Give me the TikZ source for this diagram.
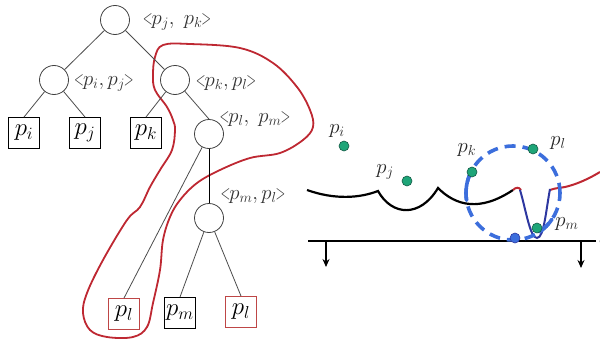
\documentclass[tikz,border=0pt]{standalone}
\usepackage{graphicx}
\usetikzlibrary{arrows.meta}
\definecolor{loopred}{RGB}{190,40,50}
\definecolor{leafred}{RGB}{190,70,70}
\definecolor{dashblue}{RGB}{60,110,220}
\definecolor{vblue}{RGB}{45,55,160}
\definecolor{ptgreen}{RGB}{30,165,120}
\definecolor{ptgreenedge}{RGB}{20,90,70}
\newcommand\pp[1]{$p_{#1}$}
\newcommand\nlt{\scalebox{0.62}[1]{$<$}}
\newcommand\ngt{\scalebox{0.62}[1]{$>$}}
\newcommand\pair[2]{\nlt\kern-1pt$p_{#1},p_{#2}$\kern-1pt\ngt}
\newcommand\pairs[2]{\nlt\kern-1pt$p_{#1},\;p_{#2}$\kern-1pt\ngt}
\begin{document}
\begin{tikzpicture}[x=1pt,y=-1pt,
  inner/.style={circle,draw=black!75,line width=0.8pt,minimum size=29pt,inner sep=0pt},
  leaf/.style={draw=black,line width=0.9pt,minimum size=31pt,inner sep=0pt,font=\fontsize{23}{26}\selectfont},
  redleaf/.style={leaf,draw=leafred},
  lab/.style={font=\fontsize{22}{26}\selectfont,text=black!80,inner sep=0pt},
  plab/.style={font=\fontsize{21}{24}\selectfont,text=black!85,inner sep=0pt},
  edge/.style={draw=black!70,line width=0.8pt},
  gpt/.style={circle,fill=ptgreen,draw=ptgreenedge,line width=0.6pt,minimum size=10pt,inner sep=0pt},
  bpt/.style={circle,fill=dashblue,draw=vblue,line width=0.6pt,minimum size=10pt,inner sep=0pt},
  downarrow/.style={-{Stealth[length=8pt,width=7pt]},line width=1.6pt}]
\useasboundingbox (0,0) rectangle (600,340);

% red loop
\draw[loopred,line width=1.8pt] plot[smooth cycle,tension=0.6] coordinates {
 (163,45) (190,44) (240,48) (273,63) (297,87) (310,110) (313,127) (303,140)
 (280,153) (250,158) (220,170) (197,183) (180,200) (170,217) (163,240)
 (160,270) (153,303) (147,327) (133,337) (107,337) (90,330) (83,313)
 (87,293) (103,260) (127,220) (140,207) (150,187) (160,170) (172,150)
 (175,130) (173,120) (167,107) (155,90) (153,75) (155,57)};

% tree
\node[inner] (root) at (115,20) {};
\node[inner] (L) at (54,80) {};
\node[inner] (R) at (175,80) {};
\node[inner] (M) at (209,134) {};
\node[inner] (N) at (209,218) {};
\node[leaf] (pi) at (24,133) {\pp{i}};
\node[leaf] (pj) at (85,133) {\pp{j}};
\node[leaf] (pk) at (146,133) {\pp{k}};
\node[redleaf] (pla) at (124,314) {\pp{l}};
\node[leaf] (pm) at (180,313) {\pp{m}};
\node[redleaf] (plb) at (241,312) {\pp{l}};

\draw[edge] (root) -- (L);
\draw[edge] (root) -- (R);
\draw[edge] (L) -- (pi.north);
\draw[edge] (L) -- (pj.north);
\draw[edge] (R) -- (pk.north);
\draw[edge] (R) -- (M.north);
\draw[edge] (M) -- (pla.north);
\draw[draw=black,line width=0.8pt] (M) -- (N);
\draw[edge] (N) -- (pm.north);
\draw[edge] (N) -- (plb.north);

\node[lab] (lroot) at (177,22) {\pairs{j}{k}};
\node[lab] (lL) at (104,83) {\pair{i}{j}};
\node[lab] (lR) at (226,83) {\pair{k}{l}};
\node[lab] (lM) at (255,119) {\pairs{l}{m}};
\node[lab] (lN) at (253,196) {\pair{m}{l}};

% right panel
\coordinate (b0) at (308,241);
\coordinate (b1) at (596,241);
\draw[line width=2.6pt] (b0) -- (b1);
\coordinate (a1) at (326,241); \coordinate (a1e) at (326,267);
\coordinate (a2) at (581,241); \coordinate (a2e) at (581,268);
\draw[downarrow] (a1) -- (a1e);
\draw[downarrow] (a2) -- (a2e);
\node[plab] (edgel) at (602,236) {$l$};

% black wavy curve
\draw[line width=2.2pt] (307,190) .. controls (335,200) and (360,198) .. (378,191)
  .. controls (392,216) and (420,218) .. (438,188)
  .. controls (456,206) and (480,212) .. (513,190);
% red pieces
\draw[loopred,line width=2pt] (513,190) .. controls (516,187) and (519,187) .. (521,190);
\draw[loopred,line width=2pt] (550,190) .. controls (555,188) and (560,188) .. (565,187)
  .. controls (578,184) and (590,178) .. (600,172);
% blue V
\draw[vblue,line width=2pt] (520,190) .. controls (526,210) and (530,238) .. (537,238)
  .. controls (544,238) and (546,210) .. (550,189);

% dashed circle and solid parts
\coordinate (cc) at (513,193);
\draw[dashblue,line width=3.6pt,dash pattern=on 11pt off 7pt,dash phase=3pt] (cc) circle[radius=47];
\draw[dashblue,line width=3.6pt,line cap=round] (cc) ++(206:47) arc[start angle=206,end angle=171,radius=47];
\draw[dashblue,line width=3.6pt,line cap=round] (cc) ++(56:47) arc[start angle=56,end angle=34,radius=47];

% points
\node[gpt] (Pi) at (344,146) {};
\node[gpt] (Pj) at (407,181) {};
\node[gpt] (Pk) at (472,172) {};
\node[gpt] (Pl) at (533,149) {};
\node[gpt] (Pm) at (537,228) {};
\node[bpt] (Pb) at (515,238) {};

\node[plab] (tPi) at (337,131) {\pp{i}};
\node[plab] (tPj) at (385,172) {\pp{j}};
\node[plab] (tPk) at (467,150) {\pp{k}};
\node[plab] (tPl) at (558,143) {\pp{l}};
\node[plab] (tPm) at (567,224) {\pp{m}};
\end{tikzpicture}
\end{document}
